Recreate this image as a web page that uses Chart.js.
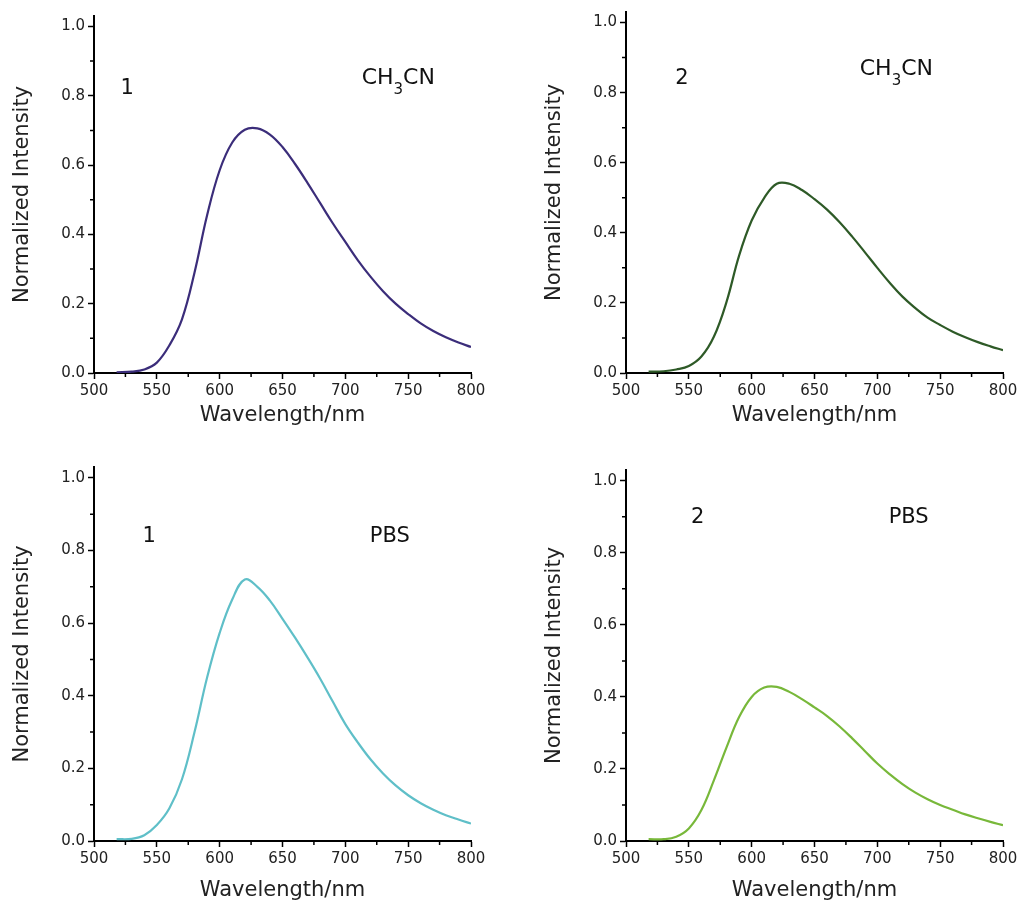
<!DOCTYPE html>
<html>
<head>
<meta charset="utf-8">
<script src="https://cdn.jsdelivr.net/npm/chart.js@4.4.1/dist/chart.umd.min.js"></script>
<style>
  html, body { margin: 0; padding: 0; background: #fff; overflow: hidden; }
  #page { position: relative; width: 1025px; height: 907px; }
  #page canvas { position: absolute; }
</style>
</head>
<body>
<div id="page"></div>
<script>
// emission spectra (nm -> normalized intensity)
const WAVELENGTHS = [518, 530, 540, 550, 560, 570, 580, 590, 600, 610, 620, 630, 640, 650, 660, 670, 680, 690, 700, 710, 720, 730, 740, 750, 760, 770, 780, 790, 800];
const INT_1_CH3CN = [0.002, 0.004, 0.010, 0.030, 0.080, 0.155, 0.290, 0.455, 0.585, 0.665, 0.702, 0.706, 0.688, 0.652, 0.603, 0.548, 0.490, 0.432, 0.378, 0.325, 0.278, 0.236, 0.200, 0.170, 0.143, 0.121, 0.103, 0.088, 0.075];
const INT_2_CH3CN = [0.004, 0.005, 0.010, 0.020, 0.047, 0.104, 0.203, 0.335, 0.435, 0.500, 0.540, 0.540, 0.522, 0.496, 0.466, 0.430, 0.389, 0.345, 0.300, 0.257, 0.218, 0.186, 0.158, 0.137, 0.118, 0.102, 0.088, 0.076, 0.065];
const INT_1_PBS   = [0.005, 0.006, 0.016, 0.044, 0.090, 0.170, 0.300, 0.450, 0.573, 0.665, 0.720, 0.700, 0.662, 0.612, 0.560, 0.505, 0.447, 0.384, 0.322, 0.271, 0.225, 0.186, 0.153, 0.126, 0.104, 0.086, 0.071, 0.059, 0.048];
const INT_2_PBS   = [0.005, 0.005, 0.012, 0.035, 0.086, 0.169, 0.260, 0.344, 0.400, 0.426, 0.428, 0.414, 0.394, 0.371, 0.347, 0.318, 0.285, 0.250, 0.215, 0.185, 0.158, 0.135, 0.116, 0.100, 0.087, 0.074, 0.063, 0.053, 0.044];

const X_TICK_STEP = 25;   // labels every 50
const Y_TICK_STEP = 0.1;  // labels every 0.2

const FONT = '"DejaVu Sans", Verdana, sans-serif';
const Y_AXIS_W = 94, X_AXIS_H = 64, PAD_TOP = 10, PAD_RIGHT = 20;

const CH3CN = [["CH", ""], ["3", "sub"], ["CN", ""]];
const PBS = [["PBS", ""]];

const PANELS = [
  { series: INT_1_CH3CN, color: "#3b2d7a", compound: "1", compoundAt: [526.5, 0.82], solvent: CH3CN, solventAt: [713, 0.85],
    area: { l: 94, t: 14, r: 471, b: 373 }, xTitlePad: 9 },
  { series: INT_2_CH3CN, color: "#2e5a27", compound: "2", compoundAt: [544.5, 0.84], solvent: CH3CN, solventAt: [686, 0.866],
    area: { l: 626, t: 10, r: 1003, b: 373 }, xTitlePad: 9 },
  { series: INT_1_PBS, color: "#5fbfc8", compound: "1", compoundAt: [544, 0.838], solvent: PBS, solventAt: [719.5, 0.839],
    area: { l: 94, t: 465, r: 471, b: 841 }, xTitlePad: 2 },
  { series: INT_2_PBS, color: "#78b83a", compound: "2", compoundAt: [557, 0.898], solvent: PBS, solventAt: [709, 0.898],
    area: { l: 626, t: 468, r: 1003, b: 841 }, xTitlePad: 2 }
];

// short ticks at the unlabelled positions
const minorTicks = {
  id: "minorTicks",
  afterDraw(chart) {
    const { ctx, scales: { x, y } } = chart;
    ctx.save();
    ctx.strokeStyle = "#000";
    ctx.lineWidth = 1.5;
    ctx.beginPath();
    x.ticks.forEach((t, i) => {
      if (t.value % 50 !== 0) {
        const px = x.getPixelForTick(i);
        ctx.moveTo(px, x.top); ctx.lineTo(px, x.top + 4);
      }
    });
    y.ticks.forEach((t, i) => {
      if (Math.round(t.value * 10) % 2 !== 0) {
        const py = y.getPixelForTick(i);
        ctx.moveTo(y.right - 4, py); ctx.lineTo(y.right, py);
      }
    });
    ctx.stroke();
    ctx.restore();
  }
};

function makeLabels(panel) {
  return {
    id: "panelLabels",
    afterDatasetsDraw(chart) {
      const { ctx, scales: { x, y } } = chart;
      ctx.save();
      ctx.fillStyle = "#111";
      ctx.textBaseline = "middle";
      ctx.font = `21px ${FONT}`;
      ctx.textAlign = "center";
      ctx.fillText(panel.compound, x.getPixelForValue(panel.compoundAt[0]), y.getPixelForValue(panel.compoundAt[1]));
      ctx.textAlign = "left";
      let px = x.getPixelForValue(panel.solventAt[0]);
      const py = y.getPixelForValue(panel.solventAt[1]);
      const big = panel.solvent.length > 1 ? 22 : 21;
      panel.solvent.forEach(([txt, kind]) => {
        ctx.font = kind === "sub" ? `15px ${FONT}` : `${big}px ${FONT}`;
        ctx.fillText(txt, px, kind === "sub" ? py + 12 : py);
        px += ctx.measureText(txt).width;
      });
      ctx.restore();
    }
  };
}

const page = document.getElementById("page");

PANELS.forEach(panel => {
  const a = panel.area;
  const left = a.l - Y_AXIS_W, top = a.t - PAD_TOP;
  const canvas = document.createElement("canvas");
  canvas.width = a.r + PAD_RIGHT - left;
  canvas.height = a.b + X_AXIS_H - top;
  canvas.style.left = left + "px";
  canvas.style.top = top + "px";
  page.appendChild(canvas);

  const points = WAVELENGTHS.map((w, i) => ({ x: w, y: panel.series[i] }));

  new Chart(canvas, {
    type: "line",
    data: {
      datasets: [{
        data: points,
        borderColor: panel.color,
        borderWidth: 2.2,
        pointRadius: 0,
        fill: false,
        tension: 0.4
      }]
    },
    options: {
      responsive: false,
      animation: false,
      layout: { padding: { top: PAD_TOP, right: PAD_RIGHT, left: 0, bottom: 0 } },
      plugins: { legend: { display: false }, tooltip: { enabled: false } },
      scales: {
        x: {
          type: "linear",
          min: 500, max: 800,
          afterFit: s => { s.height = X_AXIS_H; },
          border: { display: true, color: "#000", width: 2 },
          grid: {
            drawOnChartArea: false, drawTicks: true, tickLength: 6, tickWidth: 1.5,
            tickColor: c => (c.tick && c.tick.value % 50 !== 0) ? "rgba(0,0,0,0)" : "#000"
          },
          ticks: {
            stepSize: X_TICK_STEP, autoSkip: false, maxRotation: 0, padding: 3,
            color: "#222", font: { family: FONT, size: 15 },
            callback: v => (v % 50 === 0 ? String(v) : "")
          },
          title: {
            display: true, text: "Wavelength/nm", color: "#222",
            font: { family: FONT, size: 21 }, padding: { top: 0, bottom: panel.xTitlePad }
          }
        },
        y: {
          min: 0, max: 1.03,
          afterFit: s => { s.width = Y_AXIS_W; },
          border: { display: true, color: "#000", width: 2 },
          grid: {
            drawOnChartArea: false, drawTicks: true, tickLength: 6, tickWidth: 1.5,
            tickColor: c => (c.tick && Math.round(c.tick.value * 10) % 2 !== 0) ? "rgba(0,0,0,0)" : "#000"
          },
          ticks: {
            stepSize: Y_TICK_STEP, includeBounds: false, autoSkip: false, padding: 3,
            color: "#222", font: { family: FONT, size: 15 },
            callback: v => (Math.round(v * 10) % 2 === 0 ? v.toFixed(1) : "")
          },
          title: {
            display: true, text: "Normalized Intensity", color: "#222",
            font: { family: FONT, size: 21 }, padding: { top: 10, bottom: 0 }
          }
        }
      }
    },
    plugins: [minorTicks, makeLabels(panel)]
  });
});
</script>
</body>
</html>
